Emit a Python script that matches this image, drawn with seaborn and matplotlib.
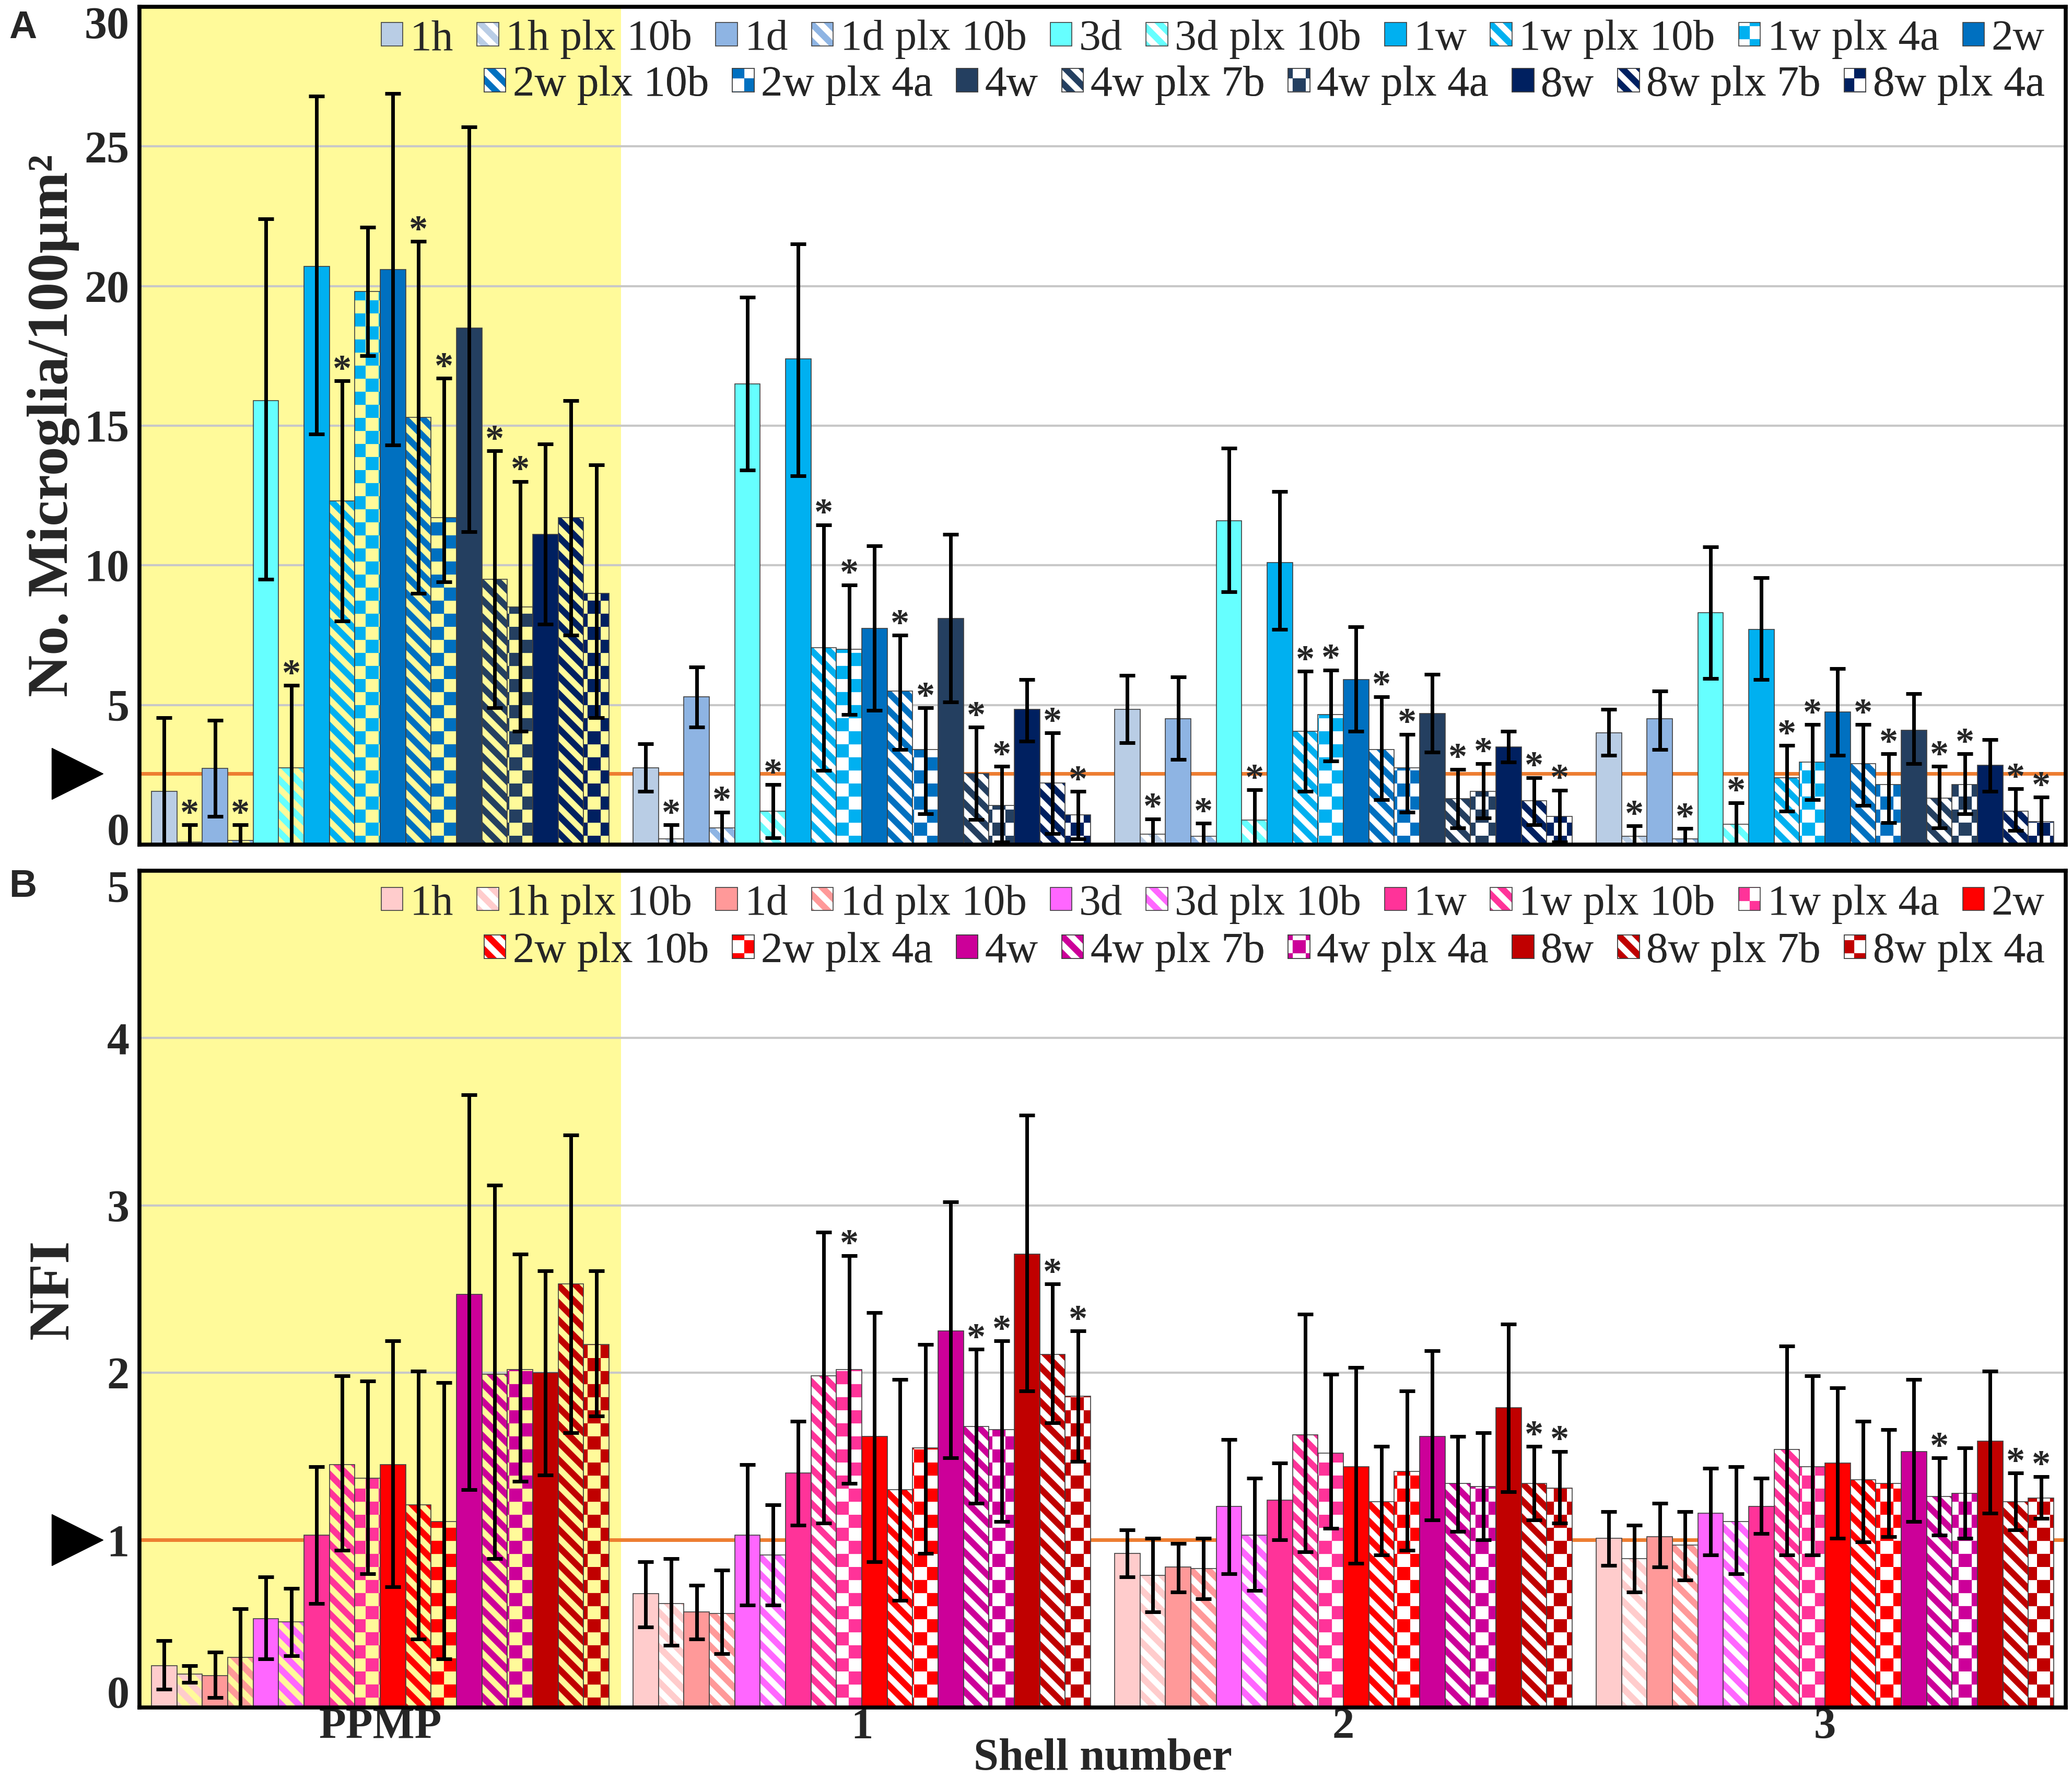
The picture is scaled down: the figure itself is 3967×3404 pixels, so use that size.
import numpy as np
import pandas as pd
import matplotlib
matplotlib.use('Agg')
import matplotlib.pyplot as plt
import matplotlib.patches as mpatches
import matplotlib.colors as mcolors
from matplotlib import hatch as mhatch
from matplotlib.path import Path
import seaborn as sns

# ---- data -------------------------------------------------------------
shells = ['PPMP', '1', '2', '3']
series = ['1h', '1h plx 10b', '1d', '1d plx 10b', '3d', '3d plx 10b',
          '1w', '1w plx 10b', '1w plx 4a', '2w', '2w plx 10b', '2w plx 4a',
          '4w', '4w plx 7b', '4w plx 4a', '8w', '8w plx 7b', '8w plx 4a']

# panel A: microglia / 100 um^2 (mean, lower and upper end of error bar)
mg_ppmp = [1.9, 0.1, 2.73, 0.15, 15.9, 2.75, 20.7, 12.3, 19.8, 20.6, 15.3, 11.7, 18.5, 9.5, 8.5, 11.1, 11.7, 9.0]
mg_ppmp_lo = [-0.75, -0.5, 1.0, -0.4, 9.5, -0.2, 14.7, 8.0, 17.5, 14.3, 9.0, 9.4, 11.2, 4.9, 4.06, 7.9, 7.5, 4.55]
mg_ppmp_hi = [4.55, 0.7, 4.45, 0.7, 22.4, 5.7, 26.8, 16.6, 22.1, 26.9, 21.6, 16.7, 25.7, 14.1, 13.0, 14.35, 15.9, 13.6]
mg_ppmp_sig = [0, 1, 0, 1, 0, 1, 0, 1, 0, 0, 1, 1, 0, 1, 1, 0, 0, 0]

mg_s1 = [2.75, 0.2, 5.3, 0.59, 16.5, 1.2, 17.4, 7.05, 7.0, 7.75, 5.5, 3.4, 8.1, 2.55, 1.4, 4.85, 2.2, 1.06]
mg_s1_lo = [1.9, -0.3, 4.2, 0.0, 13.4, 0.25, 13.2, 2.65, 4.65, 4.8, 3.4, 1.1, 5.1, 0.9, 0.1, 3.7, 0.4, 0.2]
mg_s1_hi = [3.6, 0.7, 6.35, 1.16, 19.6, 2.15, 21.5, 11.45, 9.3, 10.7, 7.5, 4.9, 11.1, 4.2, 2.8, 5.9, 4.0, 1.9]
mg_s1_sig = [0, 1, 0, 1, 0, 1, 0, 1, 1, 0, 1, 1, 0, 1, 1, 0, 1, 1]

mg_s2 = [4.85, 0.37, 4.5, 0.3, 11.6, 0.88, 10.1, 4.05, 4.65, 5.9, 3.4, 2.75, 4.7, 1.65, 1.9, 3.5, 1.57, 1.0]
mg_s2_lo = [3.65, -0.2, 3.05, -0.2, 9.06, -0.2, 7.7, 1.9, 3.0, 4.05, 1.6, 1.16, 3.3, 0.6, 0.95, 2.95, 0.7, 0.1]
mg_s2_hi = [6.05, 0.92, 6.0, 0.76, 14.2, 1.96, 12.65, 6.2, 6.25, 7.8, 5.3, 3.95, 6.1, 2.7, 2.9, 4.05, 2.4, 1.95]
mg_s2_sig = [0, 1, 0, 1, 0, 1, 0, 1, 1, 0, 1, 1, 0, 1, 1, 0, 1, 1]

mg_s3 = [4.0, 0.3, 4.5, 0.2, 8.3, 0.72, 7.7, 2.4, 2.95, 4.75, 2.9, 2.15, 4.1, 1.67, 2.15, 2.85, 1.2, 0.82]
mg_s3_lo = [3.2, -0.1, 3.4, -0.2, 5.95, -0.1, 5.9, 1.2, 1.6, 3.2, 1.4, 0.78, 2.9, 0.6, 1.1, 1.9, 0.5, 0.0]
mg_s3_hi = [4.85, 0.67, 5.5, 0.57, 10.65, 1.5, 9.55, 3.55, 4.3, 6.3, 4.3, 3.25, 5.4, 2.8, 3.25, 3.75, 2.0, 1.7]
mg_s3_sig = [0, 1, 0, 1, 0, 1, 0, 1, 1, 0, 1, 1, 0, 1, 1, 0, 1, 1]

# panel B: NFI
nfi_ppmp = [0.25, 0.2, 0.19, 0.3, 0.53, 0.51, 1.03, 1.45, 1.37, 1.45, 1.21, 1.11, 2.47, 1.99, 2.02, 2.0, 2.53, 2.17]
nfi_ppmp_lo = [0.11, 0.15, 0.06, 0.0, 0.29, 0.31, 0.62, 0.94, 0.8, 0.72, 0.41, 0.29, 1.30, 0.89, 1.35, 1.39, 1.64, 1.74]
nfi_ppmp_hi = [0.40, 0.25, 0.33, 0.59, 0.78, 0.71, 1.44, 1.98, 1.95, 2.19, 2.01, 1.94, 3.66, 3.12, 2.71, 2.61, 3.42, 2.61]
nfi_ppmp_sig = [0] * 18

nfi_s1 = [0.68, 0.62, 0.57, 0.56, 1.03, 0.91, 1.40, 1.98, 2.02, 1.62, 1.30, 1.55, 2.25, 1.68, 1.66, 2.71, 2.11, 1.86]
nfi_s1_lo = [0.48, 0.37, 0.41, 0.32, 0.61, 0.61, 1.09, 1.10, 1.34, 0.87, 0.64, 0.92, 1.49, 1.22, 1.11, 1.89, 1.70, 1.47]
nfi_s1_hi = [0.87, 0.89, 0.73, 0.82, 1.45, 1.21, 1.71, 2.84, 2.70, 2.36, 1.96, 2.17, 3.02, 2.14, 2.19, 3.54, 2.53, 2.25]
nfi_s1_sig = [0, 0, 0, 0, 0, 0, 0, 0, 1, 0, 0, 0, 0, 1, 1, 0, 1, 1]

nfi_s2 = [0.92, 0.79, 0.84, 0.83, 1.20, 1.03, 1.24, 1.63, 1.52, 1.44, 1.23, 1.41, 1.62, 1.34, 1.32, 1.79, 1.34, 1.31]
nfi_s2_lo = [0.78, 0.57, 0.69, 0.65, 0.80, 0.70, 1.00, 0.93, 1.07, 0.86, 0.91, 0.94, 1.12, 1.05, 1.00, 1.29, 1.12, 1.10]
nfi_s2_hi = [1.06, 1.01, 0.98, 1.01, 1.60, 1.37, 1.46, 2.35, 1.99, 2.03, 1.56, 1.89, 2.13, 1.62, 1.64, 2.29, 1.56, 1.53]
nfi_s2_sig = [0, 0, 0, 0, 0, 0, 0, 0, 0, 0, 0, 0, 0, 0, 0, 0, 1, 1]

nfi_s3 = [1.01, 0.89, 1.02, 0.97, 1.16, 1.11, 1.20, 1.54, 1.44, 1.46, 1.36, 1.34, 1.53, 1.26, 1.28, 1.59, 1.23, 1.25]
nfi_s3_lo = [0.85, 0.69, 0.84, 0.76, 0.91, 0.80, 1.04, 0.91, 0.91, 1.01, 0.99, 1.02, 1.11, 1.03, 1.01, 1.16, 1.06, 1.13]
nfi_s3_hi = [1.17, 1.09, 1.22, 1.17, 1.43, 1.44, 1.37, 2.16, 1.98, 1.91, 1.71, 1.66, 1.96, 1.49, 1.55, 2.01, 1.40, 1.38]
nfi_s3_sig = [0, 0, 0, 0, 0, 0, 0, 0, 0, 0, 0, 0, 0, 1, 0, 0, 1, 1]

# baseline (arrow) values
mg_ref = 2.55
nfi_ref = 1.0

# colours per time point
blues = {'1h': '#B9CDE5', '1d': '#8EB4E3', '3d': '#66FFFF', '1w': '#00B0F0',
         '2w': '#0070C0', '4w': '#243F60', '8w': '#002060'}
reds = {'1h': '#FFCCCC', '1d': '#FF9999', '3d': '#FF66FF', '1w': '#FF3399',
        '2w': '#FF0000', '4w': '#CC0099', '8w': '#C00000'}

YELLOW = '#FFFA9A'
EDGE = '#404040'
ORANGE = '#ED7D31'


# ---- Excel-like fill patterns as custom hatches -------------------------
class WideStripes(mhatch.HatchPatternBase):
    """wide downward diagonal bands ('o')"""
    def __init__(self, hatch, density):
        self.n = 3 if 'o' in hatch else 0
        self.num_vertices = (2 * self.n + 2) * 5 if self.n else 0

    def set_vertices_and_codes(self, vertices, codes):
        w = 0.5 / self.n
        i = 0
        for k in range(-1, 2 * self.n + 1):
            c = k / self.n
            vertices[i:i + 5] = [(c + 1, -1), (c + w + 1, -1), (c + w - 2, 2), (c - 2, 2), (c + 1, -1)]
            codes[i:i + 5] = [Path.MOVETO, Path.LINETO, Path.LINETO, Path.LINETO, Path.CLOSEPOLY]
            i += 5


class Checker(mhatch.HatchPatternBase):
    """large checker board ('O')"""
    def __init__(self, hatch, density):
        self.m = 4 if 'O' in hatch else 0
        self.cells = [(i, j) for i in range(self.m) for j in range(self.m) if (i + j) % 2 == 0]
        self.num_vertices = 5 * len(self.cells)

    def set_vertices_and_codes(self, vertices, codes):
        s = 1.0 / self.m
        for n, (i, j) in enumerate(self.cells):
            x0, y0 = i * s, j * s
            vertices[5 * n:5 * n + 5] = [(x0, y0), (x0 + s, y0), (x0 + s, y0 + s), (x0, y0 + s), (x0, y0)]
            codes[5 * n:5 * n + 5] = [Path.MOVETO, Path.LINETO, Path.LINETO, Path.LINETO, Path.CLOSEPOLY]


mhatch._hatch_types[:] = [t for t in mhatch._hatch_types
                          if t not in (mhatch.SmallCircles, mhatch.LargeCircles)] + [WideStripes, Checker]


def pattern_of(name):
    if name.endswith('4a'):
        return 'O'
    if name.endswith('b'):
        return 'o'
    return None


def set_hatch_colour(patch, colour):
    if hasattr(patch, 'set_hatchcolor'):
        patch.set_hatchcolor(colour)
    else:
        patch._hatch_color = mcolors.to_rgba(colour)


def long_table(means):
    rows = []
    for shell, vals in zip(shells, means):
        for name, v in zip(series, vals):
            rows.append((shell, name, v))
    return pd.DataFrame(rows, columns=['shell', 'series', 'value'])


def legend_handle(name, palette):
    kind = pattern_of(name)
    if kind:
        h = mpatches.Patch(facecolor='white', edgecolor=EDGE, linewidth=1.2, hatch=kind)
        set_hatch_colour(h, palette[name])
    else:
        h = mpatches.Patch(facecolor=palette[name], edgecolor=EDGE, linewidth=1.2)
    return h


def draw_panel(ax, means, lows, highs, sigs, colours, ref, ymax, ystep, ylabel, leg_y):
    palette = {s: colours[s.split()[0]] for s in series}
    df = long_table(means)
    sns.barplot(data=df, x='shell', y='value', hue='series', order=shells, hue_order=series,
                palette=palette, saturation=1, width=0.95, errorbar=None, legend=False,
                edgecolor=EDGE, linewidth=1.2, zorder=2, ax=ax)

    xs, ys, lo, hi, star = [], [], [], [], []
    for i, cont in enumerate(list(ax.containers)):
        name = series[i]
        kind = pattern_of(name)
        for j, bar in enumerate(cont):
            if kind:
                bar.set_facecolor(YELLOW if j == 0 else 'white')
                bar.set_hatch(kind)
                set_hatch_colour(bar, palette[name])
            xs.append(bar.get_x() + bar.get_width() / 2)
            ys.append(bar.get_height())
            lo.append(lows[j][i])
            hi.append(highs[j][i])
            star.append(sigs[j][i])
    xs, ys, lo, hi = map(np.array, (xs, ys, lo, hi))
    ax.errorbar(xs, ys, yerr=[ys - lo, hi - ys], fmt='none', ecolor='black',
                elinewidth=5, capsize=11, capthick=5, zorder=3)
    for x, top, s in zip(xs, hi, star):
        if s:
            ax.annotate('*', (x, top), xytext=(0, 1), textcoords='offset points',
                        ha='center', va='baseline', fontsize=52, fontweight='bold', zorder=4)

    ax.axvspan(-0.5, 0.5, color=YELLOW, lw=0, zorder=0.1)
    ax.axhline(ref, color=ORANGE, lw=5, zorder=1.5)
    ax.plot([-0.0323], [ref], marker='>', ms=70, color='black', lw=0,
            transform=ax.get_yaxis_transform(), clip_on=False)

    ax.set_xlim(-0.5, 3.5)
    ax.set_ylim(0, ymax)
    ax.set_yticks(np.arange(0, ymax + ystep / 2, ystep))
    ax.set_axisbelow(True)
    ax.yaxis.grid(True, color='#C8C8C8', lw=3)
    ax.xaxis.grid(False)
    ax.tick_params(axis='both', length=0)
    ax.tick_params(axis='y', pad=14, labelsize=62)
    for lab in ax.get_yticklabels():
        lab.set_fontweight('bold')
    # keep the end labels inside the frame, as Excel does
    yticks = ax.yaxis.get_major_ticks()
    yticks[0].label1.set_va('baseline')
    yticks[-1].label1.set_va('top')
    ax.set_ylabel(ylabel, fontsize=80, fontweight='bold')
    ax.yaxis.set_label_coords(-0.031, 0.5)
    ax.set_xlabel('')
    for sp in ax.spines.values():
        sp.set_visible(True)
        sp.set_color('black')
        sp.set_linewidth(5.5)

    # Excel-style legend, two right-aligned rows
    for names, y in ((series[:10], leg_y[0]), (series[10:], leg_y[1])):
        leg = ax.legend(handles=[legend_handle(n, palette) for n in names], labels=names,
                        ncol=len(names), loc='center right', bbox_to_anchor=(0.989, y),
                        frameon=False, fontsize=60, handlelength=0.5, handleheight=0.45,
                        handletextpad=0.16, columnspacing=0.54, borderpad=0, borderaxespad=0)
        ax.add_artist(leg)


sns.set_theme(style='white')
plt.rcParams['font.family'] = ['Liberation Serif', 'DejaVu Serif']
plt.rcParams['hatch.linewidth'] = 0.2
plt.rcParams['axes.unicode_minus'] = False

fig = plt.figure(figsize=(39.67, 34.04), dpi=100)
ax_a = fig.add_axes([0.0673, 0.525, 0.9297, 0.4712])
ax_b = fig.add_axes([0.0673, 0.0397, 0.9297, 0.4706])

draw_panel(ax_a,
           [mg_ppmp, mg_s1, mg_s2, mg_s3],
           [mg_ppmp_lo, mg_s1_lo, mg_s2_lo, mg_s3_lo],
           [mg_ppmp_hi, mg_s1_hi, mg_s2_hi, mg_s3_hi],
           [mg_ppmp_sig, mg_s1_sig, mg_s2_sig, mg_s3_sig],
           blues, mg_ref, 30, 5, 'No. Microglia/100μm²', (0.961, 0.906))
ax_a.tick_params(axis='x', labelbottom=False)

draw_panel(ax_b,
           [nfi_ppmp, nfi_s1, nfi_s2, nfi_s3],
           [nfi_ppmp_lo, nfi_s1_lo, nfi_s2_lo, nfi_s3_lo],
           [nfi_ppmp_hi, nfi_s1_hi, nfi_s2_hi, nfi_s3_hi],
           [nfi_ppmp_sig, nfi_s1_sig, nfi_s2_sig, nfi_s3_sig],
           reds, nfi_ref, 5, 1, 'NFI', (0.960, 0.903))
ax_b.tick_params(axis='x', pad=0, labelsize=61)
for lab in ax_b.get_xticklabels():
    lab.set_fontweight('bold')
ax_b.set_xlabel('Shell number', fontsize=62, fontweight='bold')
ax_b.xaxis.set_label_coords(0.5, -0.037)

fig.text(0.0043, 0.9944, 'A', fontsize=53, fontweight='bold', family='Liberation Sans', va='top')
fig.text(0.0043, 0.5115, 'B', fontsize=53, fontweight='bold', family='Liberation Sans', va='top')

fig.savefig('out.png', dpi=100)
